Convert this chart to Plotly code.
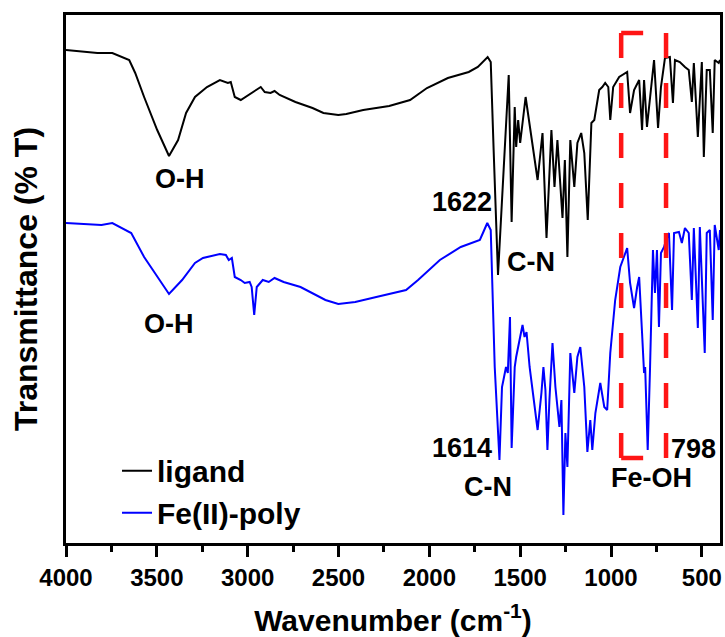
import plotly.graph_objects as go

# ---- data (wavenumber in cm^-1, transmittance in arbitrary offset units) ----
ligand_wn = [4000, 3827, 3745, 3685, 3652, 3619, 3570, 3498, 3433, 3383, 3339, 3290, 3224, 3153,
             3109, 3093, 3071, 3038, 3011, 2967, 2928, 2906, 2874, 2852, 2824, 2737, 2643, 2583,
             2501, 2457, 2364, 2221, 2106, 2013, 1898, 1783, 1733, 1679, 1662, 1646, 1622,
             1563, 1547, 1530, 1522, 1511, 1500, 1470, 1404, 1377, 1355, 1328, 1311, 1295, 1267,
             1254, 1240, 1224, 1202, 1185, 1164, 1147, 1128, 1108, 1092, 1065, 1048, 1032, 1015,
             1004, 988, 955, 938, 911, 895, 873, 845, 829, 818, 802, 763, 741, 725, 703, 676,
             659, 648, 621, 593, 572, 555, 544, 522, 500, 489, 473, 456, 440, 429, 407, 400]
ligand_T = [493, 490, 490, 485, 483, 470, 446, 413, 387, 403, 430, 446, 456, 463,
            460, 461, 446, 443, 446, 451, 456, 451, 450, 452, 448, 441, 435, 430,
            428, 429, 433, 437, 443, 455, 465, 471, 476, 486, 481, 393, 268,
            468, 321, 436, 396, 423, 400, 446, 363, 410, 305, 413, 356, 403, 325,
            383, 286, 403, 356, 400, 410, 390, 323, 420, 423, 453, 456, 460, 456,
            423, 456, 466, 468, 471, 430, 453, 463, 413, 463, 416, 483, 415, 456, 485, 486,
            440, 483, 481, 476, 473, 441, 480, 406, 481, 386, 473, 473, 410, 483, 480, 483]

fe_wn = [4000, 3805, 3745, 3674, 3641, 3570, 3498, 3433, 3361, 3290, 3246, 3153, 3120, 3104,
         3087, 3071, 3038, 3016, 2989, 2978, 2964, 2950, 2917, 2884, 2852, 2802, 2709, 2643,
         2572, 2501, 2457, 2408, 2292, 2128, 2062, 1942, 1827, 1722, 1705, 1681, 1662, 1640,
         1614, 1600, 1592, 1578, 1568, 1556, 1547, 1530, 1522, 1505, 1487, 1476, 1465, 1448,
         1404, 1383, 1372, 1361, 1350, 1339, 1322, 1306, 1284, 1273, 1262, 1251, 1240, 1224,
         1202, 1185, 1169, 1147, 1130, 1114, 1103, 1086, 1059, 1037, 1021, 1004, 977, 949,
         927, 911, 895, 873, 856, 845, 829, 818, 812, 798, 785, 769, 758, 747, 736, 725,
         708, 697, 681, 664, 653, 626, 610, 593, 572, 555, 544, 522, 511, 484, 473, 456,
         440, 429, 407, 400]
fe_T = [320, 318, 320, 313, 310, 286, 266, 249, 263, 280, 285, 289, 288, 283,
        285, 266, 263, 260, 261, 256, 228, 256, 263, 261, 265, 261, 256, 250,
        243, 239, 240, 241, 246, 253, 263, 283, 296, 303, 310, 320, 313, 176,
        83, 156, 163, 176, 170, 226, 95, 176, 186, 200, 218, 206, 211, 176,
        113, 150, 176, 153, 93, 143, 200, 156, 116, 143, 28, 110, 76, 190,
        150, 186, 196, 156, 91, 123, 93, 130, 160, 136, 133, 190, 243, 276,
        286, 295, 260, 235, 256, 266, 210, 170, 176, 93, 176, 293, 250, 293, 216, 290,
        296, 303, 310, 233, 310, 311, 300, 315, 310, 243, 315, 215, 316, 190, 310, 313,
        223, 318, 293, 313]

series_names = ["ligand", "Fe(II)-poly"]
x_tick_vals = [4000, 3500, 3000, 2500, 2000, 1500, 1000, 500]
x_tick_text = ["4000", "3500", "3000", "2500", "2000", "1500", "1000", "500"]

# annotation labels: (text, wavenumber, T)
labels = [("O-H", 3372, 364), ("1622", 1821, 341), ("C-N", 1443, 281),
          ("O-H", 3433, 219), ("1614", 1821, 95), ("C-N", 1676, 56),
          ("Fe-OH", 777, 65), ("798", 544, 94)]

# highlighted region (wavenumber bounds, T bounds)
box_left, box_right = 944, 697
box_top, box_bottom = 510, 85
box_cap_end = 823

FONT = "Liberation Sans, Arial, sans-serif"

fig = go.Figure()
fig.add_trace(go.Scatter(x=ligand_wn, y=ligand_T, mode="lines", name=series_names[0],
                         line=dict(color="#000000", width=2)))
fig.add_trace(go.Scatter(x=fe_wn, y=fe_T, mode="lines", name=series_names[1],
                         line=dict(color="#0000ff", width=2)))

for text, xv, yv in labels:
    fig.add_annotation(x=xv, y=yv, text=text, showarrow=False,
                       font=dict(family=FONT, size=27, color="black", weight="bold"),
                       xanchor="center", yanchor="middle")

red = "#ff1515"
fig.add_shape(type="line", x0=box_left, x1=box_left, y0=box_top, y1=box_bottom,
              line=dict(color=red, width=4.5, dash="25px,25px"))
fig.add_shape(type="line", x0=box_right, x1=box_right, y0=box_top, y1=box_bottom,
              line=dict(color=red, width=4.5, dash="25px,25px"))
fig.add_shape(type="line", x0=box_left, x1=box_cap_end, y0=box_top, y1=box_top,
              line=dict(color=red, width=4.5))
fig.add_shape(type="line", x0=box_left, x1=box_cap_end, y0=box_bottom, y1=box_bottom,
              line=dict(color=red, width=4.5))

fig.update_layout(
    width=725, height=637,
    margin=dict(l=66, r=2, t=15, b=94),
    paper_bgcolor="white", plot_bgcolor="white",
    showlegend=True,
    legend=dict(x=0.078, y=0.008, xanchor="left", yanchor="bottom",
                bgcolor="rgba(0,0,0,0)", borderwidth=0,
                font=dict(family=FONT, size=30, color="black", weight="bold"),
                tracegroupgap=0),
    xaxis=dict(range=[4000, 400], tickmode="array", tickvals=x_tick_vals, ticktext=x_tick_text,
               ticks="outside", ticklen=11, tickwidth=2.5, tickcolor="black",
               minor=dict(dtick=250, tick0=0, ticks="outside", ticklen=6, tickwidth=2.5, tickcolor="black"),
               showline=True, linewidth=3, linecolor="black", mirror=True,
               showgrid=False, zeroline=False,
               tickfont=dict(family=FONT, size=24, color="black", weight="bold"),
               title=dict(text="Wavenumber (cm<sup>-1</sup>)", standoff=22,
                          font=dict(family=FONT, size=30, color="black", weight="bold"))),
    yaxis=dict(range=[0, 528], showticklabels=False, ticks="",
               showline=True, linewidth=3, linecolor="black", mirror=True,
               showgrid=False, zeroline=False,
               title=dict(text="Transmittance (% T)", standoff=16,
                          font=dict(family=FONT, size=32, color="black", weight="bold"))),
)

fig.write_html("out.html")
